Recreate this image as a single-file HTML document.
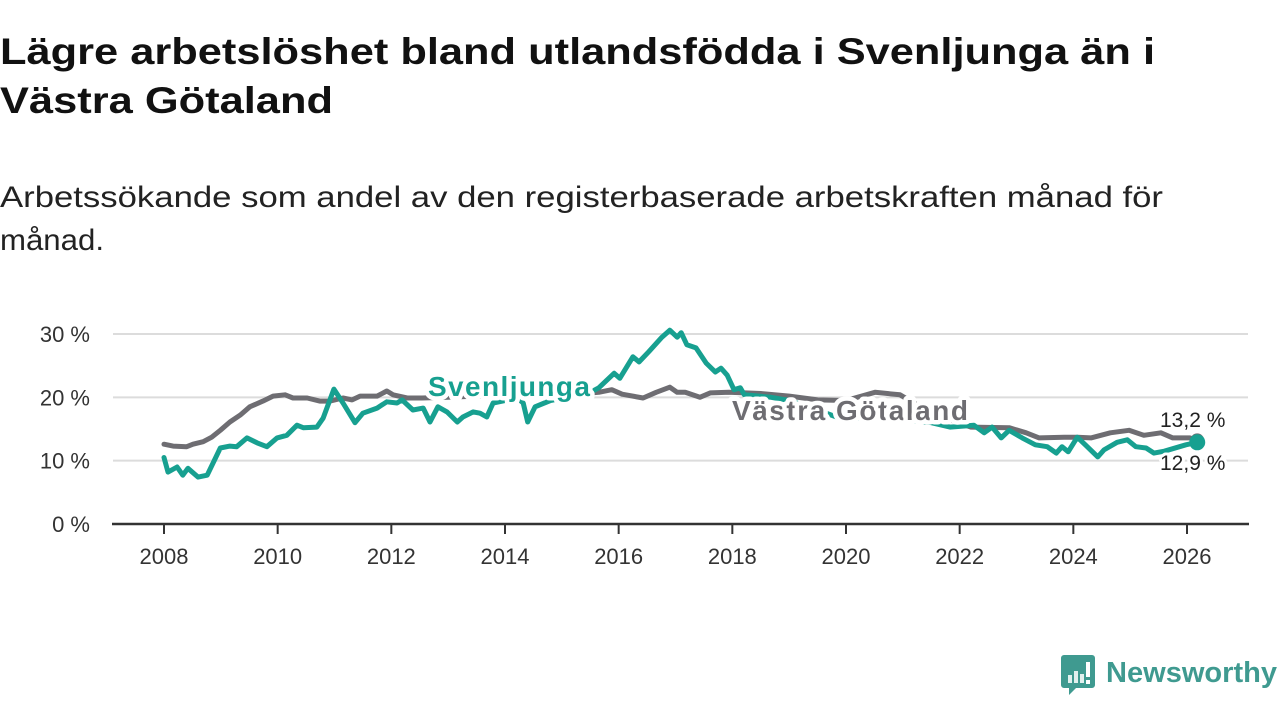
<!DOCTYPE html>
<html><head><meta charset="utf-8"><style>
html,body{margin:0;padding:0;background:#fff;}
svg{display:block;font-family:"Liberation Sans",sans-serif;}
</style></head><body>
<svg id="chart" width="1280" height="720" viewBox="0 0 1280 720">
<text x="0" y="64" font-size="37" font-weight="bold" fill="#111" textLength="1155" lengthAdjust="spacingAndGlyphs">Lägre arbetslöshet bland utlandsfödda i Svenljunga än i</text>
<text x="0" y="113" font-size="37" font-weight="bold" fill="#111" textLength="333" lengthAdjust="spacingAndGlyphs">Västra Götaland</text>
<text x="0" y="207" font-size="30" fill="#222" textLength="1163" lengthAdjust="spacingAndGlyphs">Arbetssökande som andel av den registerbaserade arbetskraften månad för</text>
<text x="0" y="250" font-size="30" fill="#222" textLength="104" lengthAdjust="spacingAndGlyphs">månad.</text>
<g id="grid"></g>
<g id="axes"></g>
<g id="lines"></g>
<g id="labels"></g>
<g>
<path d="M1064 655 h28 a3 3 0 0 1 3 3 v27 a3 3 0 0 1 -3 3 h-16 l-7 7 v-7 h-5 a3 3 0 0 1 -3 -3 v-27 a3 3 0 0 1 3 -3z" fill="#3f9a90"/>
<rect x="1068" y="675" width="4" height="8" fill="#fff" opacity="0.85"/>
<rect x="1074" y="671" width="4" height="12" fill="#fff" opacity="0.85"/>
<rect x="1080" y="674" width="4" height="9" fill="#fff" opacity="0.85"/>
<rect x="1086" y="662" width="4" height="15" fill="#fff"/>
<rect x="1086" y="680" width="4" height="4" fill="#fff"/>
<text x="1106" y="682" font-size="29" font-weight="bold" fill="#3f9a90" textLength="171" lengthAdjust="spacingAndGlyphs">Newsworthy</text>
</g>
</svg>
<script>
const yTicks = [0, 10, 20, 30];
const yTickLabels = ["0 %", "10 %", "20 %", "30 %"];
const xTicks = [2008, 2010, 2012, 2014, 2016, 2018, 2020, 2022, 2024, 2026];
const svenDates = [2008.0,2008.07,2008.23,2008.33,2008.42,2008.6,2008.76,2008.99,2009.16,2009.28,2009.46,2009.64,2009.81,2009.99,2010.16,2010.34,2010.45,2010.69,2010.8,2010.99,2011.15,2011.36,2011.5,2011.75,2011.92,2012.1,2012.19,2012.38,2012.56,2012.68,2012.82,2012.98,2013.16,2013.26,2013.44,2013.56,2013.68,2013.79,2014.0,2014.2,2014.32,2014.4,2014.53,2014.8,2015.1,2015.4,2015.65,2015.92,2016.02,2016.25,2016.36,2016.53,2016.76,2016.9,2017.03,2017.1,2017.2,2017.36,2017.54,2017.7,2017.8,2017.91,2018.03,2018.14,2018.21,2018.68,2019.0,2019.5,2019.98,2020.5,2021.0,2021.5,2021.83,2022.25,2022.43,2022.57,2022.73,2022.87,2023.1,2023.33,2023.54,2023.7,2023.8,2023.91,2024.07,2024.21,2024.43,2024.54,2024.77,2024.95,2025.1,2025.28,2025.42,2025.6,2025.98,2026.18];
const svenValues = [10.5,8.2,9,7.7,8.8,7.4,7.7,12,12.3,12.2,13.6,12.8,12.2,13.6,14,15.6,15.2,15.3,16.7,21.3,19.1,16,17.5,18.3,19.3,19.1,19.6,18,18.3,16.1,18.5,17.7,16.1,16.9,17.7,17.5,16.9,19.1,19.5,20,19.1,16.1,18.5,19.5,20,20.3,21.5,23.8,23,26.4,25.6,27.2,29.5,30.6,29.5,30.2,28.3,27.8,25.4,24,24.6,23.5,21.2,21.5,20.4,20,19.5,18,16.4,17,16.5,16,15.3,15.6,14.4,15.3,13.6,14.8,13.6,12.5,12.2,11.2,12.2,11.4,13.7,12.5,10.6,11.7,12.9,13.3,12.2,12,11.2,11.5,12.5,12.9];
const vgDates = [2008.0,2008.16,2008.4,2008.51,2008.69,2008.84,2008.99,2009.16,2009.34,2009.51,2009.74,2009.92,2010.13,2010.27,2010.52,2010.74,2010.92,2011.15,2011.31,2011.45,2011.75,2011.92,2012.03,2012.28,2012.54,2013.0,2013.5,2014.0,2014.5,2015.0,2015.4,2015.65,2015.88,2016.06,2016.43,2016.66,2016.9,2017.03,2017.17,2017.43,2017.61,2017.94,2018.5,2019.0,2019.5,2020.0,2020.51,2020.95,2021.5,2022.2,2022.87,2023.17,2023.4,2023.84,2024.07,2024.31,2024.65,2024.98,2025.24,2025.54,2025.75,2026.05,2026.18];
const vgValues = [12.6,12.3,12.2,12.6,13,13.7,14.8,16.1,17.2,18.5,19.4,20.2,20.4,19.9,19.9,19.4,19.4,19.9,19.6,20.2,20.2,21,20.4,19.9,19.9,20,20.2,20.1,20.3,20.5,20.6,20.8,21.2,20.5,19.9,20.8,21.6,20.8,20.8,20,20.7,20.8,20.6,20.2,19.6,19.5,20.8,20.4,17.5,15.3,15.2,14.4,13.6,13.7,13.7,13.6,14.4,14.8,14,14.4,13.6,13.6,13.2];

const NS = "http://www.w3.org/2000/svg";
const x = d => 164 + (d - 2008) * (1023 / 18);
const y = v => 524 - v * (190 / 30);
function mk(tag, attrs, parent) {
  const e = document.createElementNS(NS, tag);
  for (const k in attrs) e.setAttribute(k, attrs[k]);
  parent.appendChild(e);
  return e;
}
const grid = document.getElementById('grid');
const axes = document.getElementById('axes');
yTicks.forEach((t, i) => {
  if (t !== 0) {
    const g = mk('line', {x1: 113, x2: 1248, y1: y(t), y2: y(t), stroke: '#dcdcdc', 'stroke-width': 2}, grid);
    
    
  }
  const tx = mk('text', {x: 90, y: y(t) + 8, 'font-size': 22, fill: '#333', 'text-anchor': 'end'}, axes);
  tx.textContent = yTickLabels[i];
  
  
});
const base = mk('line', {x1: 112, x2: 1249, y1: 524, y2: 524, stroke: '#333', 'stroke-width': 2.5}, axes);


xTicks.forEach(t => {
  const tk = mk('line', {x1: x(t), x2: x(t), y1: 524, y2: 534, stroke: '#333', 'stroke-width': 2}, axes);
  
  
  const tx = mk('text', {x: x(t), y: 564, 'font-size': 22, fill: '#333', 'text-anchor': 'middle'}, axes);
  tx.textContent = String(t);
  
  
});
const lines = document.getElementById('lines');
function pts(ds, vs) { return ds.map((d, i) => x(d).toFixed(1) + ',' + y(vs[i]).toFixed(1)).join(' '); }
const vgLine = mk('polyline', {points: pts(vgDates, vgValues), fill: 'none', stroke: '#6e6d72', 'stroke-width': 5, 'stroke-linejoin': 'round', 'stroke-linecap': 'round'}, lines);


const svLine = mk('polyline', {points: pts(svenDates, svenValues), fill: 'none', stroke: '#17a090', 'stroke-width': 5, 'stroke-linejoin': 'round', 'stroke-linecap': 'round'}, lines);


const lastVg = vgValues[vgValues.length - 1], lastSv = svenValues[svenValues.length - 1];
const lastD = svenDates[svenDates.length - 1];
const dv = mk('circle', {cx: x(vgDates[vgDates.length - 1]), cy: y(lastVg), r: 7, fill: '#6e6d72'}, lines);


const ds = mk('circle', {cx: x(lastD), cy: y(lastSv), r: 8, fill: '#17a090'}, lines);


const labels = document.getElementById('labels');
function lab(txt, xx, yy, size, weight, fill, name, sw) {
  const t = mk('text', {x: xx, y: yy, 'font-size': size, 'font-weight': weight, fill: fill, stroke: '#fff', 'stroke-width': sw, 'paint-order': 'stroke', 'stroke-linejoin': 'round'}, labels);
  t.textContent = txt;
  
  
  return t;
}
lab('Svenljunga', 428, 396, 28, 'bold', '#17a090', 'svenljunga-label', 9).setAttribute('textLength', 162);
lab('Västra Götaland', 732, 420, 28, 'bold', '#6e6d72', 'vastra-gotaland-label', 9).setAttribute('textLength', 236);
lab(lastVg.toFixed(1).replace('.', ',') + ' %', 1160, 427, 21, 'normal', '#222', 'vastra-gotaland-end-value', 6);
lab(lastSv.toFixed(1).replace('.', ',') + ' %', 1160, 470, 21, 'normal', '#222', 'svenljunga-end-value', 6);
</script>
</body></html>
